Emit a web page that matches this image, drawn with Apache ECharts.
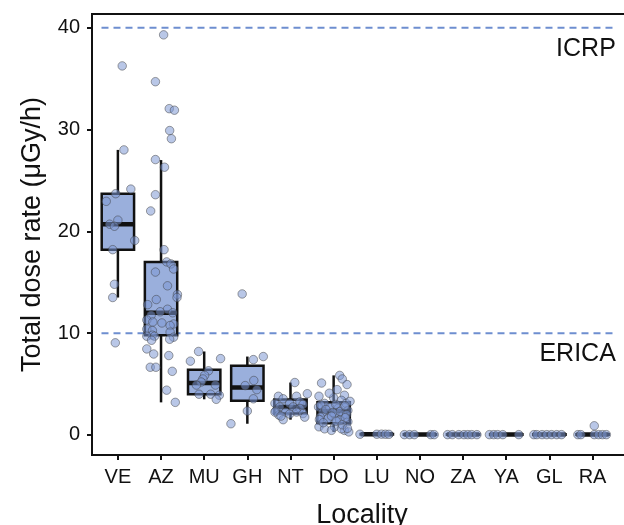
<!DOCTYPE html>
<html><head><meta charset="utf-8">
<script src="https://cdn.jsdelivr.net/npm/echarts@6/dist/echarts.min.js"></script>
<style>html,body{margin:0;padding:0;background:#fff}#chart{width:624px;height:525px}</style>
</head><body><div id="chart"></div>
<script>
const categories = ['VE','AZ','MU','GH','NT','DO','LU','NO','ZA','YA','GL','RA'];
const yTicks = [0, 10, 20, 30, 40];
// box statistics per locality
const boxLow  = [13.5, 3.2, 3.5, 1.1, 1.5, 0.3, 0.04, 0.02, 0.02, 0.02, 0.02, 0.02];
const boxQ1   = [18.2, 9.8, 4.0, 3.35, 2.1, 1.15, 0.04, 0.02, 0.02, 0.02, 0.02, 0.02];
const boxMed  = [20.7, 12.0, 5.1, 4.65, 2.75, 2.35, 0.07, 0.05, 0.05, 0.05, 0.05, 0.05];
const boxQ3   = [23.7, 17.0, 6.4, 6.8, 3.47, 3.2, 0.1, 0.08, 0.08, 0.08, 0.08, 0.08];
const boxHigh = [28.0, 27.0, 8.2, 7.7, 5.15, 5.85, 0.1, 0.08, 0.08, 0.08, 0.08, 0.08];

// individual observations and their horizontal jitter
const veValues = [36.25, 28.0, 24.15, 23.7, 22.95, 21.1, 20.7, 20.5, 19.1, 18.2, 14.8, 13.5, 9.05];
const veJitter = [0.10, 0.14, 0.30, -0.05, -0.27, 0.0, -0.19, -0.08, 0.39, -0.12, -0.08, -0.12, -0.06];
const azValues = [39.3, 34.7, 32.05, 31.9, 29.9, 29.1, 27.05, 26.3, 23.6, 22.0, 18.2, 17.0, 16.8, 16.3, 16.0, 14.65, 13.8, 13.5, 13.3, 12.8, 12.35, 12.1, 12.0, 11.75, 11.3, 11.1, 11.0, 10.9, 10.75, 10.4, 10.25, 10.1, 9.8, 9.7, 9.7, 9.6, 9.4, 9.3, 8.45, 7.95, 7.8, 6.65, 6.65, 6.25, 4.4, 3.2];
const azJitter = [0.06, -0.13, 0.19, 0.31, 0.20, 0.24, -0.13, 0.08, -0.13, -0.24, 0.07, 0.13, 0.23, 0.29, -0.13, 0.15, 0.38, 0.37, -0.11, -0.31, 0.15, -0.02, 0.27, -0.23, -0.33, -0.19, 0.02, 0.29, 0.21, -0.33, -0.20, 0.21, -0.20, -0.33, -0.15, 0.29, 0.20, -0.22, -0.33, -0.17, 0.18, -0.25, -0.12, 0.26, 0.13, 0.33];
const muValues = [8.2, 7.25, 7.5, 6.3, 5.85, 5.5, 5.2, 4.9, 4.9, 4.0, 4.0, 3.9, 3.5];
const muJitter = [-0.13, -0.32, 0.38, 0.10, 0.01, -0.03, -0.07, -0.18, 0.26, -0.12, 0.15, 0.35, 0.28];
const ghValues = [13.85, 7.4, 7.7, 5.35, 4.85, 4.45, 3.55, 2.35, 1.1];
const ghJitter = [-0.12, 0.14, 0.37, 0.15, -0.05, 0.22, 0.14, 0.0, -0.38];
const ntValues = [5.15, 4.05, 3.8, 3.55, 3.8, 3.25, 3.1, 3.1, 3.0, 2.75, 2.75, 2.6, 2.35, 2.25, 2.25, 1.95, 2.05, 2.1, 1.5, 2.25, 1.75, 1.85];
const ntJitter = [0.10, 0.39, -0.28, -0.17, 0.14, 0.22, -0.36, -0.02, 0.29, -0.25, 0.06, 0.22, -0.34, -0.11, 0.14, -0.27, -0.02, 0.29, -0.17, -0.36, 0.33, -0.22];
const doValues = [5.85, 5.5, 4.95, 5.1, 4.45, 3.9, 3.8, 3.65, 3.4, 3.1, 3.1, 2.75, 2.7, 2.6, 2.4, 2.25, 2.1, 1.95, 1.75, 1.6, 1.45, 1.3, 0.8, 0.6, 0.8, 0.45, 0.3, 0.45, 0.6, 3.0, 2.95, 2.5, 2.3, 2.2, 2.0, 1.85, 1.7, 1.5, 1.35, 1.2, 1.0, 3.3, 2.85, 4.1, 0.65];
const doJitter = [0.14, 0.20, 0.31, -0.28, 0.08, 0.25, -0.34, 0.0, 0.18, -0.21, 0.29, -0.35, -0.09, 0.10, 0.33, -0.25, 0.02, 0.22, -0.31, -0.13, 0.14, 0.33, -0.34, -0.21, 0.02, 0.25, 0.35, -0.05, 0.18, 0.05, -0.30, -0.18, 0.15, -0.02, 0.30, -0.05, 0.27, -0.33, 0.06, -0.24, 0.20, 0.38, 0.26, -0.10, 0.32];
const luValues = [0.07, 0.07, 0.08, 0.07, 0.06];
const luJitter = [-0.39, 0.0, 0.11, 0.20, 0.28];
const noValues = [0.03, 0.03, 0.03, 0.03, 0.03];
const noJitter = [-0.36, -0.24, -0.13, 0.25, 0.33];
const zaValues = [0.03, 0.03, 0.03, 0.03, 0.03, 0.03, 0.03];
const zaJitter = [-0.36, -0.25, -0.10, 0.02, 0.11, 0.20, 0.32];
const yaValues = [0.03, 0.03, 0.03, 0.03, 0.03];
const yaJitter = [-0.39, -0.29, -0.20, -0.08, 0.29];
const glValues = [0.03, 0.03, 0.03, 0.03, 0.03, 0.03, 0.03];
const glJitter = [-0.36, -0.29, -0.17, -0.06, 0.05, 0.17, 0.28];
const raValues = [0.03, 0.03, 0.9, 0.03, 0.03, 0.03, 0.03];
const raJitter = [-0.34, -0.27, 0.04, 0.04, 0.14, 0.23, 0.32];

const thresholdValues = [40, 10];
const thresholdLabels = ['ICRP', 'ERICA'];
const thresholdLabelY = [37.9, 7.9];

const groupValues = [veValues, azValues, muValues, ghValues, ntValues, doValues, luValues, noValues, zaValues, yaValues, glValues, raValues];
const groupJitter = [veJitter, azJitter, muJitter, ghJitter, ntJitter, doJitter, luJitter, noJitter, zaJitter, yaJitter, glJitter, raJitter];

const FONT = 'Liberation Sans, Arial, Helvetica, sans-serif';
const INK = '#111111';
const BOX_WIDTH = 0.75;

const boxData = categories.map((c, i) => [i + 1, boxLow[i], boxQ1[i], boxMed[i], boxQ3[i], boxHigh[i]]);
const pointData = [];
groupValues.forEach((vals, i) => {
  vals.forEach((v, j) => pointData.push([i + 1 + groupJitter[i][j], v]));
});
const segData = thresholdValues.map(v => [0.62, 12.47, v]);
const labelData = thresholdLabels.map((t, i) => [12.54, thresholdLabelY[i], t]);

const chart = echarts.init(document.getElementById('chart'), null, {renderer: 'canvas'});
chart.setOption({
  animation: false,
  backgroundColor: '#ffffff',
  grid: {left: 92, top: 14, width: 540, height: 441, show: true, borderColor: INK, borderWidth: 2,
    backgroundColor: 'transparent', outerBoundsMode: 'none', containLabel: false},
  xAxis: {
    type: 'value', min: 0.4, max: 0.4 + 540 / 43.15,
    name: 'Locality', nameLocation: 'middle', nameGap: 47,
    nameTextStyle: {fontFamily: FONT, fontSize: 27, color: INK},
    axisLine: {show: true, onZero: false, lineStyle: {color: INK, width: 2}},
    axisTick: {show: true, length: 5, lineStyle: {color: INK, width: 2}, customValues: categories.map((c, i) => i + 1)},
    axisLabel: {show: true, margin: 12, fontFamily: FONT, fontSize: 20, color: INK,
      customValues: categories.map((c, i) => i + 1),
      formatter: v => categories[Math.round(v) - 1] || ''},
    splitLine: {show: false}
  },
  yAxis: {
    type: 'value', min: -1.97, max: 41.35,
    name: 'Total dose rate (μGy/h)', nameLocation: 'middle', nameGap: 46,
    nameTextStyle: {fontFamily: FONT, fontSize: 27, color: INK},
    axisLine: {show: true, onZero: false, lineStyle: {color: INK, width: 2}},
    axisTick: {show: true, length: 5, lineStyle: {color: INK, width: 2}, customValues: yTicks},
    axisLabel: {show: true, margin: 12, fontFamily: FONT, fontSize: 20, color: INK, customValues: yTicks},
    splitLine: {show: false}
  },
  series: [
    {
      type: 'custom', name: 'thresholds', data: segData, z: 1,
      encode: {x: [0, 1], y: 2},
      renderItem: (params, api) => {
        const a = api.coord([api.value(0), api.value(2)]);
        const b = api.coord([api.value(1), api.value(2)]);
        return {type: 'line', shape: {x1: a[0], y1: a[1], x2: b[0], y2: b[1]},
          style: {stroke: '#6E8ED0', lineWidth: 2, lineDash: [7, 5]}};
      }
    },
    {
      type: 'custom', name: 'boxes', data: boxData, z: 2,
      encode: {x: 0, y: [1, 2, 3, 4, 5]},
      renderItem: (params, api) => {
        const x = api.value(0);
        const lo = api.coord([x, api.value(1)]);
        const q1 = api.coord([x, api.value(2)]);
        const md = api.coord([x, api.value(3)]);
        const q3 = api.coord([x, api.value(4)]);
        const hi = api.coord([x, api.value(5)]);
        const hw = api.size([BOX_WIDTH, 0])[0] / 2;
        return {type: 'group', children: [
          {type: 'line', shape: {x1: lo[0], y1: lo[1], x2: q1[0], y2: q1[1]}, style: {stroke: INK, lineWidth: 2.5}},
          {type: 'line', shape: {x1: q3[0], y1: q3[1], x2: hi[0], y2: hi[1]}, style: {stroke: INK, lineWidth: 2.5}},
          {type: 'rect', shape: {x: q3[0] - hw, y: q3[1], width: 2 * hw, height: Math.max(q1[1] - q3[1], 0.5)},
            style: {fill: '#9AAFDC', stroke: INK, lineWidth: 2.5}},
          {type: 'line', shape: {x1: md[0] - hw, y1: md[1], x2: md[0] + hw, y2: md[1]}, style: {stroke: INK, lineWidth: 4.5}}
        ]};
      }
    },
    {
      type: 'scatter', name: 'points', data: pointData, z: 3,
      symbol: 'circle', symbolSize: 8.5,
      itemStyle: {color: 'rgba(125,152,210,0.68)', borderColor: 'rgba(60,60,60,0.6)', borderWidth: 1}
    },
    {
      type: 'custom', name: 'labels', data: labelData, z: 4,
      encode: {x: 0, y: 1},
      renderItem: (params, api) => {
        const p = api.coord([api.value(0), api.value(1)]);
        return {type: 'text', x: p[0], y: p[1],
          style: {text: thresholdLabels[params.dataIndex], fontFamily: FONT, fontSize: 25, fill: INK, align: 'right', verticalAlign: 'middle'}};
      }
    }
  ]
});
</script>
</body></html>
